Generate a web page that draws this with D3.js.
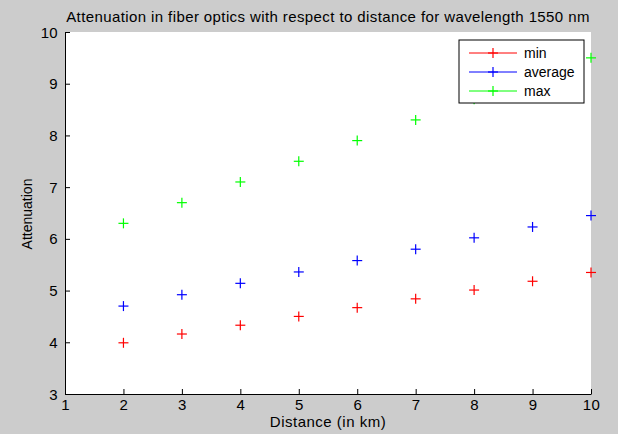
<!DOCTYPE html>
<html>
<head>
<meta charset="utf-8">
<script src="https://cdn.jsdelivr.net/npm/d3@7"></script>
<style>
  body { margin: 0; background: #cccccc; }
  svg { display: block; font-family: "Liberation Sans", Arial, sans-serif; }
</style>
</head>
<body>
<div id="chart"></div>
<script>
// data
var distance = [2, 3, 4, 5, 6, 7, 8, 9, 10];
var minVals = [3.99, 4.16, 4.33, 4.50, 4.67, 4.84, 5.01, 5.18, 5.35];
var avgVals = [4.70, 4.92, 5.14, 5.36, 5.58, 5.80, 6.02, 6.23, 6.45];
var maxVals = [6.3, 6.7, 7.1, 7.5, 7.9, 8.3, 8.7, 9.1, 9.5];
var seriesNames = ["min", "average", "max"];
var seriesColors = ["#ff0000", "#0000ff", "#00ff00"];
var xTicks = [1, 2, 3, 4, 5, 6, 7, 8, 9, 10];
var yTicks = [3, 4, 5, 6, 7, 8, 9, 10];

var W = 618, H = 434;
// plot box (window.top is reserved, so use other names)
var plotL = 65, plotR = 591, plotT = 32, plotB = 394;

var svg = d3.select("#chart").append("svg").attr("width", W).attr("height", H);
svg.append("rect").attr("width", W).attr("height", H).attr("fill", "#cccccc");

var x = d3.scaleLinear().domain([1, 10]).range([plotL, plotR]);
var y = d3.scaleLinear().domain([3, 10]).range([plotB, plotT]);

// white plot area
svg.append("rect").attr("x", plotL).attr("y", plotT)
  .attr("width", plotR - plotL).attr("height", plotB - plotT).attr("fill", "#fff");

// axes, ticks inward
var xAxis = svg.append("g").attr("transform", "translate(0," + plotB + ")")
  .call(d3.axisBottom(x).tickValues(xTicks).tickFormat(d3.format("d"))
    .tickSize(-5).tickPadding(8).tickSizeOuter(0));
var yAxis = svg.append("g").attr("transform", "translate(" + plotL + ",0)")
  .call(d3.axisLeft(y).tickValues(yTicks).tickFormat(d3.format("d"))
    .tickSize(-5).tickPadding(7).tickSizeOuter(0));
[xAxis, yAxis].forEach(a => {
  a.select(".domain").attr("stroke", "#000");
  a.selectAll("line").attr("stroke", "#000");
  a.selectAll("text").attr("fill", "#000").style("font-size", "15px")
    .style("letter-spacing", "0.3px")
    .style("font-family", "'Liberation Sans', Arial, sans-serif");
});
yAxis.selectAll("text").attr("dy", "0.34em");
xAxis.selectAll("text").attr("dy", "0.55em");

// plus markers
var series = [minVals, avgVals, maxVals];
function plus(g, cx, cy, r, color) {
  g.append("line").attr("x1", cx - r).attr("x2", cx + r).attr("y1", cy).attr("y2", cy)
    .attr("stroke", color).attr("stroke-width", 1.2);
  g.append("line").attr("x1", cx).attr("x2", cx).attr("y1", cy - r).attr("y2", cy + r)
    .attr("stroke", color).attr("stroke-width", 1.2);
}
series.forEach((vals, i) => {
  var g = svg.append("g");
  vals.forEach((v, j) => plus(g, x(distance[j]), y(v), 5, seriesColors[i]));
});

// title and labels
svg.append("text").attr("x", (plotL + plotR) / 2).attr("y", 22)
  .attr("text-anchor", "middle").style("font-size", "15px").style("letter-spacing", "0.4px")
  .text("Attenuation in fiber optics with respect to distance for wavelength 1550 nm");
svg.append("text").attr("x", (plotL + plotR) / 2).attr("y", 427)
  .attr("text-anchor", "middle").style("font-size", "15px").style("letter-spacing", "0.5px")
  .text("Distance (in km)");
svg.append("text").attr("transform", "translate(32," + 214 + ") rotate(-90)")
  .attr("text-anchor", "middle").style("font-size", "14px").text("Attenuation");

// legend
var lg = svg.append("g").attr("transform", "translate(459,40)");
lg.append("rect").attr("width", 125).attr("height", 63)
  .attr("fill", "#fff").attr("stroke", "#000").attr("stroke-width", 1);
seriesNames.forEach((name, i) => {
  var ly = 13 + i * 19;
  lg.append("line").attr("x1", 10).attr("x2", 58).attr("y1", ly).attr("y2", ly)
    .attr("stroke", seriesColors[i]).attr("stroke-width", 1);
  plus(lg, 34, ly, 5, seriesColors[i]);
  lg.append("text").attr("x", 65).attr("y", ly + 5).style("font-size", "14px").text(name);
});
</script>
</body>
</html>
